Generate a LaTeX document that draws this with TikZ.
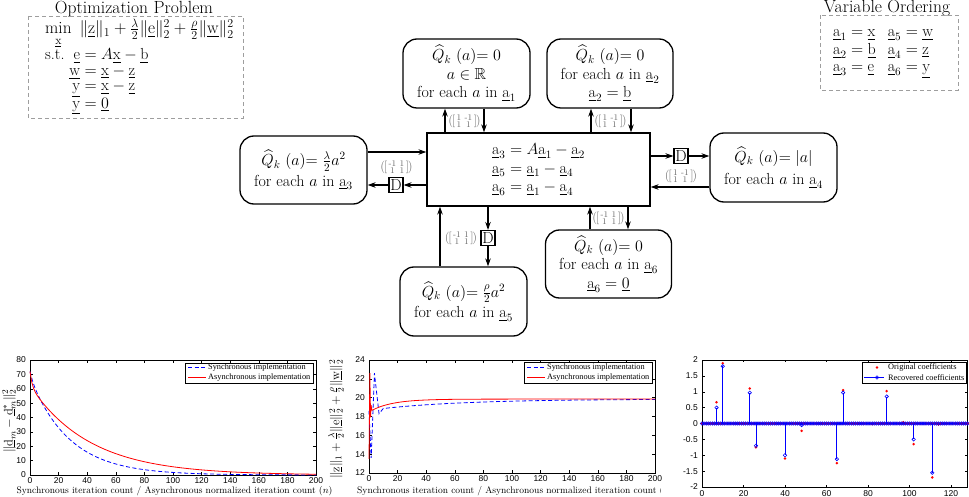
\RequirePackage{fix-cm}
\documentclass[tikz,border=0pt]{standalone}
\usepackage{amsmath,amssymb}
\usepackage{fontspec}
\newfontfamily\plotsans{Liberation Sans}
\newfontfamily\plotserif{Liberation Serif}
\usetikzlibrary{arrows.meta}
\newcommand\ul[1]{\underline{\mathrm{#1}}}
\newcommand\fsmain{\fontsize{16}{18.5}\selectfont}
\newcommand\mxlab[4]{\ensuremath{\left(\mkern-2mu\left[\mkern-1mu\begin{smallmatrix}#1&#2\\#3&#4\end{smallmatrix}\mkern-1mu\right]\mkern-2mu\right)}}
\definecolor{lblgray}{gray}{0.42}
\definecolor{dashgray}{gray}{0.62}
\definecolor{mblue}{rgb}{0,0,1}
\definecolor{mred}{rgb}{1,0,0}
\begin{document}
\begin{tikzpicture}[x=1pt,y=-1pt,
  qbox/.style={draw, line width=1.3pt, rounded corners=14pt, align=center, font=\fsmain, inner sep=1pt},
  cbox/.style={draw, line width=1.3pt, align=left, font=\fsmain, inner sep=0pt},
  dbox/.style={draw, line width=1.1pt, font=\fsmain, inner sep=0pt, minimum width=14pt, minimum height=15pt},
  arr/.style={line width=1.1pt, -{Stealth[length=8pt,width=5.5pt]}},
  mlab/.style={text=lblgray, font=\fontsize{12.5}{14}\selectfont, inner sep=0pt},
  dashbox/.style={draw=dashgray, line width=0.8pt, dash pattern=on 4pt off 3pt},
  ttl/.style={font=\fontsize{17.6}{20}\selectfont, inner sep=0pt, anchor=base},
  tick/.style={font=\plotsans\fontsize{8.5}{9}\selectfont, inner sep=0pt},
  legtxt/.style={font=\plotserif\fontsize{8.3}{9}\selectfont, inner sep=0pt, anchor=west},
  xlab/.style={font=\fontsize{9.5}{11}\selectfont, inner sep=0pt},
  axline/.style={line width=0.5pt},
  bl/.style={mblue, line width=0.8pt, dash pattern=on 4pt off 2.5pt},
  rd/.style={mred, line width=0.8pt},
]
\useasboundingbox (0,0) rectangle (969,497);

% ---------- Optimization problem ----------
\node[ttl] (optt) at (134,14) {Optimization Problem};
\draw[dashbox] (28,16) rectangle (243,118);
\node[anchor=base west, inner sep=0, font=\fontsize{17.2}{18}\selectfont] (optmin) at (45,34)
  {$\min\limits_{\ul{x}}\ \|\ul{z}\|_1 + \frac{\lambda}{2}\|\ul{e}\|_2^2 + \frac{\rho}{2}\|\ul{w}\|_2^2$};
\node[anchor=base west, inner sep=0, font=\fontsize{16}{15.5}\selectfont] (optst) at (45,60)
  {\begin{tabular}[t]{@{}l@{\ }r@{}l@{}}
   s.t. & $\ul{e}$ & ${}= A\ul{x} - \ul{b}$\\
        & $\ul{w}$ & ${}= \ul{x} - \ul{z}$\\
        & $\ul{y}$ & ${}= \ul{x} - \ul{z}$\\
        & $\ul{y}$ & ${}= \underline{0}$
   \end{tabular}};

% ---------- Variable ordering ----------
\node[ttl] (vot) at (887,13) {Variable Ordering};
\draw[dashbox] (820,15) rectangle (958,90);
\node[anchor=base west, inner sep=0, font=\fontsize{16}{17.5}\selectfont] (vo) at (833,37)
  {\begin{tabular}[t]{@{}l@{\hspace{12pt}}l@{}}
   $\ul{a}_1=\ul{x}$ & $\ul{a}_5=\ul{w}$\\
   $\ul{a}_2=\ul{b}$ & $\ul{a}_4=\ul{z}$\\
   $\ul{a}_3=\ul{e}$ & $\ul{a}_6=\ul{y}$
   \end{tabular}};

% ---------- Factor graph ----------
\node[cbox, minimum width=223pt, minimum height=73pt] (c) at (538.5,169.5)
  {$\ul{a}_3 = A\ul{a}_1 - \ul{a}_2$\\$\ul{a}_5 = \ul{a}_1 - \ul{a}_4$\\$\ul{a}_6 = \ul{a}_1 - \ul{a}_4$};
\node[qbox, minimum width=127pt, minimum height=69pt] (n1) at (466.5,73.5)
  {$\widehat{Q}_k\ (a){=}\;0$\\$a\in\mathbb{R}$\\for each $a$ in $\ul{a}_1$};
\node[qbox, minimum width=126pt, minimum height=69pt] (n2) at (610,73.5)
  {$\widehat{Q}_k\ (a){=}\;0$\\for each $a$ in $\ul{a}_2$\\$\ul{a}_2 = \ul{b}$};
\node[qbox, minimum width=127pt, minimum height=68pt] (nl) at (303.5,170)
  {$\widehat{Q}_k\ (a){=}\;\frac{\lambda}{2}a^2$\\[2pt]for each $a$ in $\ul{a}_3$};
\node[qbox, minimum width=127pt, minimum height=69pt] (nr) at (773.5,167.5)
  {$\widehat{Q}_k\ (a){=}\;|a|$\\[4pt]for each $a$ in $\ul{a}_4$};
\node[qbox, minimum width=127pt, minimum height=69pt] (nb) at (463.5,301.5)
  {$\widehat{Q}_k\ (a){=}\;\frac{\rho}{2}a^2$\\[2pt]for each $a$ in $\ul{a}_5$};
\node[qbox, minimum width=126pt, minimum height=68pt] (nbr) at (608.5,264)
  {$\widehat{Q}_k\ (a){=}\;0$\\for each $a$ in $\ul{a}_6$\\$\ul{a}_6 = \underline{0}$};

% D boxes
\node[dbox] (dr) at (681,156) {D};
\node[dbox] (dl) at (396,185) {D};
\node[dbox] (db) at (488,238) {D};

% helper coordinates
\coordinate (up1) at (445,120);
\coordinate (dn1) at (484,120);
\coordinate (up2) at (591,120);
\coordinate (dn2) at (631,120);
\coordinate (rin) at (700,187);
\coordinate (lout) at (400,152);
\coordinate (bup) at (440,240);
\coordinate (brup) at (590,220);
\coordinate (brdn) at (628,220);

% connectors
\draw[arr] (c.north -| up1) -- (n1.south -| up1);
\draw[arr] (n1.south -| dn1) -- (c.north -| dn1);
\draw[arr] (c.north -| up2) -- (n2.south -| up2);
\draw[arr] (n2.south -| dn2) -- (c.north -| dn2);
\draw[arr] (c.east |- dr) -- (dr.west);
\draw[arr] (dr.east) -- (nr.west |- dr);
\draw[arr] (nr.west |- rin) -- (c.east |- rin);
\draw[arr] (nl.east |- lout) -- (c.west |- lout);
\draw[arr] (c.west |- dl) -- (dl.east);
\draw[arr] (dl.west) -- (nl.east |- dl);
\draw[arr] (nb.north -| bup) -- (c.south -| bup);
\draw[arr] (c.south -| db) -- (db.north);
\draw[arr] (db.south) -- (nb.north -| db);
\draw[arr] (nbr.north -| brup) -- (c.south -| brup);
\draw[arr] (c.south -| brdn) -- (nbr.north -| brdn);

% matrix labels
\node[mlab] (l1) at (464.5,121) {\mxlab{1}{\text{-}1}{1}{1}};
\node[mlab] (l2) at (610.5,121) {\mxlab{1}{\text{-}1}{1}{1}};
\node[mlab] (lr) at (681,176) {\mxlab{1}{\text{-}1}{1}{1}};
\node[mlab] (ll) at (396.5,167) {\mxlab{\text{-}1}{1}{1}{1}};
\node[mlab] (lb) at (461,238) {\mxlab{\text{-}1}{1}{1}{1}};
\node[mlab] (lbr) at (608.5,218.5) {\mxlab{\text{-}1}{1}{1}{1}};

% ---------- Plot 1 ----------
\begin{scope}[shift={(30,475)}, x=1.43pt, y=1.4375pt]
  \draw[axline] (0,0) rectangle (200,80);
  \foreach \t in {0,20,...,200} {
    \draw[axline] (\t,0) -- (\t,1.8);
    \draw[axline] (\t,80) -- (\t,78.2);
    \node[tick, anchor=north] at ([yshift=-2.5pt]\t,0) {\t};
  }
  \foreach \v in {0,10,...,80} {
    \draw[axline] (0,\v) -- (2,\v);
    \draw[axline] (200,\v) -- (198,\v);
    \node[tick, anchor=east] at ([xshift=-4pt]0,\v) {\v};
  }
  \draw[bl] plot[domain=0:200, samples=120] (\x,{68*exp(-\x/27.5)+4*exp(-\x/2)});
  \draw[rd] plot[domain=0:200, samples=160] (\x,{62*exp(-\x/42)+10*exp(-\x/1.5)});
\end{scope}
\node[xlab] (x1) at (174.5,491) {Synchronous iteration count / Asynchronous normalized iteration count $(n)$};
\node[rotate=90, inner sep=0, font=\fontsize{12.5}{14}\selectfont] (y1) at (9,421) {$\|\ul{d}_m-\ul{d}_m^*\|_2^2$};
\draw[axline, fill=white] (185,363) rectangle (313,383);
\draw[bl, line width=1pt] (188,367.5) -- (206,367.5);
\draw[rd, line width=1pt] (188,377.5) -- (206,377.5);
\node[legtxt] at (208,367.5) {Synchronous implementation};
\node[legtxt] at (208,377.5) {Asynchronous implementation};

% ---------- Plot 2 ----------
\begin{scope}[shift={(369,586)}, x=1.43pt, y=9.4167pt]
  \draw[axline] (0,12) rectangle (200,24);
  \foreach \t in {0,20,...,200} {
    \draw[axline] (\t,12) -- (\t,12.28);
    \draw[axline] (\t,24) -- (\t,23.72);
    \node[tick, anchor=north] at ([yshift=-2.5pt]\t,12) {\t};
  }
  \foreach \v in {12,14,...,24} {
    \draw[axline] (0,\v) -- (2,\v);
    \draw[axline] (200,\v) -- (198,\v);
    \node[tick, anchor=east] at ([xshift=-4pt]0,\v) {\v};
  }
  \draw[bl] (0,18.6) -- (1.5,13.6) -- (3.8,22.6) -- (7,18.3) -- (10,18.85)
     -- plot[domain=10:200, samples=60] (\x,{19.85-1.0*exp(-(\x-10)/60)});
  \draw[rd] (0,13.5) -- (0.6,22.6) -- (1.1,17.9) -- (1.5,19.2) -- (2,18.65)
     -- plot[domain=2:200, samples=80] (\x,{19.85-1.2*exp(-(\x-2)/15)});
\end{scope}
\begin{scope}
  \clip (330,340) rectangle (660,497);
  \node[xlab, anchor=west] (x2) at (357,491) {Synchronous iteration count / Asynchronous normalized iteration count $(n)$};
\end{scope}
\node[rotate=90, inner sep=0, font=\fontsize{12.6}{14}\selectfont] (y2) at (336,419)
  {$\|\ul{z}\|_1+\frac{\lambda}{2}\|\ul{e}\|_2^2+\frac{\rho}{2}\|\ul{w}\|_2^2$};
\draw[axline, fill=white] (524,362) rectangle (652,383);
\draw[bl, line width=1pt] (527,367.5) -- (545,367.5);
\draw[rd, line width=1pt] (527,377.5) -- (545,377.5);
\node[legtxt] at (547,367.5) {Synchronous implementation};
\node[legtxt] at (547,377.5) {Asynchronous implementation};

% ---------- Plot 3 ----------
\begin{scope}[shift={(702,423.5)}, x=2.075pt, y=31.75pt]
  \draw[axline] (0,-2) rectangle (128,2);
  \foreach \t in {0,20,...,120} {
    \draw[axline] (\t,-2) -- (\t,-1.93);
    \draw[axline] (\t,2) -- (\t,1.93);
    \node[tick, anchor=north] at ([yshift=-3pt]\t,-2) {\t};
  }
  \foreach \v/\l in {2/2,1.5/1.5,1/1,0.5/0.5,0/0,-0.5/-0.5,-1/-1,-1.5/-1.5,-2/-2} {
    \draw[axline] (0,\v) -- (1.4,\v);
    \draw[axline] (128,\v) -- (126.6,\v);
    \node[tick, anchor=east] at ([xshift=-4pt]0,\v) {\l};
  }
  \foreach \n in {0,...,128} {
    \fill[mred] (\n,0) circle[radius=1.4pt];
  }
  \foreach \n/\v in {7/0.67,10/1.9,23/1.1,26/-0.75,40/-1.1,48/-0.23,65/-1.25,68/1.05,82/-0.02,89/1.02,97/0.04,102/-0.65,111/-1.7,114/-0.03} {
    \fill[mred] (\n,\v) circle[radius=1.4pt];
  }
  \foreach \n in {0,...,128} {
    \draw[mblue, line width=0.6pt] (\n,0) circle[radius=1.7pt];
  }
  \foreach \n/\v in {7/0.5,10/1.8,23/0.97,26/-0.7,40/-1.0,48/-0.05,65/-1.12,68/0.97,89/0.85,102/-0.5,111/-1.55} {
    \draw[mblue, line width=0.8pt] (\n,0) -- (\n,\v);
    \draw[mblue, line width=0.6pt] (\n,\v) circle[radius=1.7pt];
  }
\end{scope}
\draw[axline, fill=white] (862,362) rectangle (966,383);
\fill[mred] (877,367.5) circle[radius=1.4pt];
\draw[mblue, line width=0.8pt] (864,377.5) -- (884,377.5);
\draw[mblue, line width=0.6pt] (877,377.5) circle[radius=1.7pt];
\node[legtxt] at (888,367.5) {Original coefficients};
\node[legtxt] at (888,377.5) {Recovered coefficients};
\end{tikzpicture}
\end{document}
